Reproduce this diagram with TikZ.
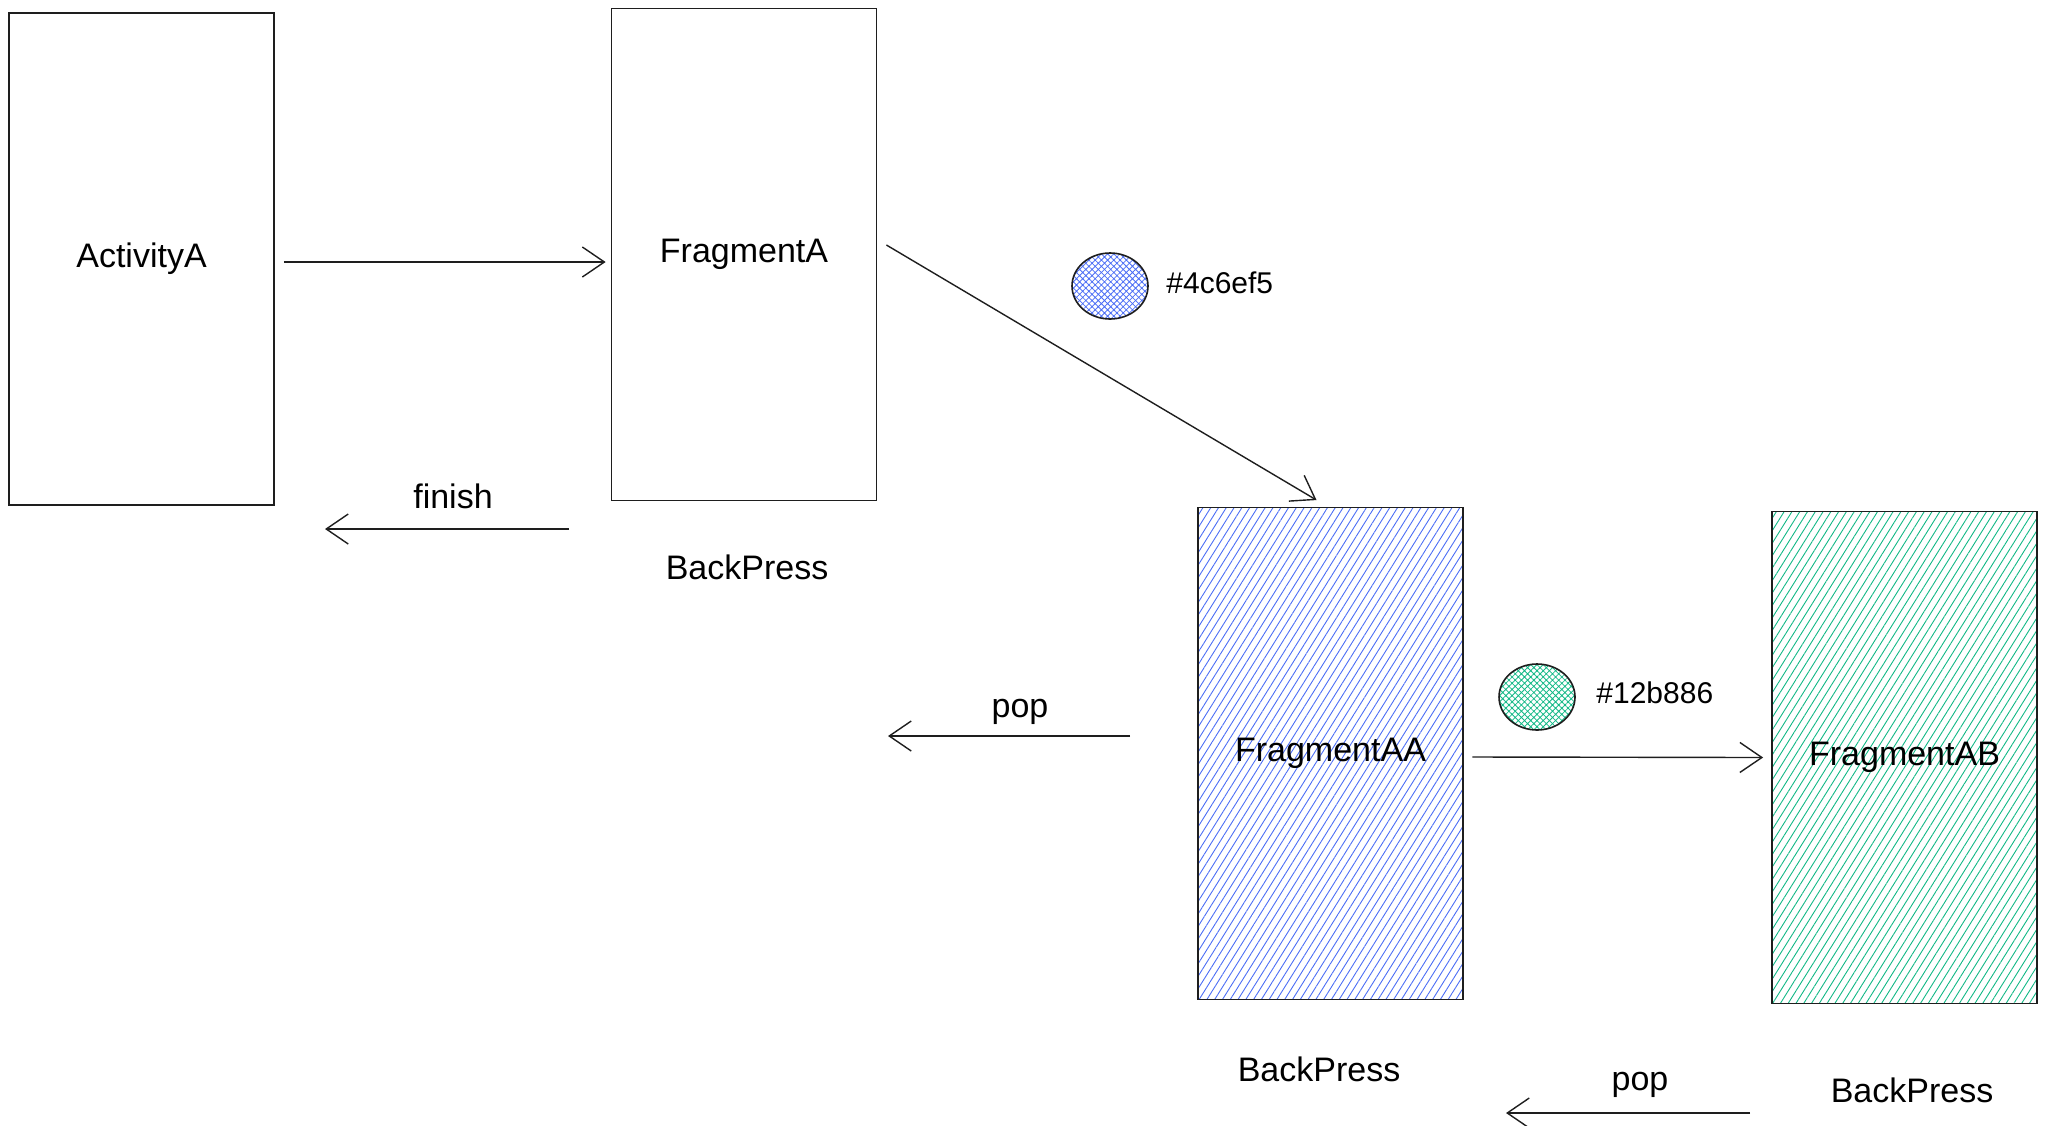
\documentclass[tikz,border=0pt]{standalone}
\usepackage{fontspec}
\setmainfont{Liberation Sans}
\usetikzlibrary{arrows.meta,patterns.meta,shapes.geometric}
\definecolor{ink}{HTML}{1E1E1E}
\definecolor{blueA}{HTML}{4C6EF5}
\definecolor{greenA}{HTML}{12B886}
\tikzset{
  screen/.style={draw=ink, line width=0.9pt, rectangle, inner sep=0pt,
    minimum width=132.5pt, minimum height=246pt, font=\fontsize{17}{20}\selectfont},
  hatched/.style={pattern={Lines[angle=58,distance=3.3pt,line width=0.45pt]}, pattern color=#1},
  dot/.style={draw=ink, line width=0.8pt, ellipse, inner sep=0pt,
    minimum width=38pt, minimum height=33pt,
    pattern={Hatch[angle=45,distance=2.2pt,line width=0.4pt]}, pattern color=#1},
  lbl/.style={font=\fontsize{17}{20}\selectfont, inner sep=1pt},
  hexlbl/.style={font=\fontsize{15}{18}\selectfont, inner sep=0pt, anchor=west},
  arr/.style={draw=ink, line width=0.7pt, -{Straight Barb[length=11pt,width=15pt]}}
}
\begin{document}
\begin{tikzpicture}[x=0.5pt, y=-0.5pt]
  \useasboundingbox (0,0) rectangle (2048,1125);
  % screens
  \node[screen] (act) at (141.5,259) {ActivityA};
  \node[screen] (fa) at (744,254.5) {FragmentA};
  \node[screen, hatched=blueA] (faa) at (1330.5,753.5) {FragmentAA};
  \node[screen, hatched=greenA] (fab) at (1904.5,757.5) {FragmentAB};
  % colour swatches
  \node[dot=blueA] (cBlue) at (1110,286) {};
  \node[hexlbl] (hexBlue) at (1166,283) {\#4c6ef5};
  \node[dot=greenA] (cGreen) at (1537,697) {};
  \node[hexlbl] (hexGreen) at (1596,693) {\#12b886};
  % labels
  \node[lbl] (bpA) at (747,567) {BackPress};
  \node[lbl] (bpAA) at (1319,1069) {BackPress};
  \node[lbl] (bpAB) at (1912,1090) {BackPress};
  \node[lbl] (finL) at (453,496) {finish};
  \node[lbl] (popL) at (1020,712) {pop};
  \node[lbl] (popLb) at (1640,1085) {pop};
  % free ends of the back arrows
  \coordinate (finS) at (569,529);
  \coordinate (finE) at (325,529);
  \coordinate (popS) at (1130,736);
  \coordinate (popE) at (888,736);
  \coordinate (popSb) at (1750,1113);
  \coordinate (popEb) at (1506,1113);
  % forward arrows
  \draw[arr] ([xshift=4.5pt,yshift=-1.5pt]act.east) -- ([xshift=-2.5pt,yshift=-1.5pt]act.east -| fa.west);
  \draw[arr] ([xshift=4.5pt,yshift=4.75pt]fa.east) -- ([xshift=-7pt,yshift=3.5pt]faa.north);
  \draw[arr] ([xshift=4.5pt,yshift=-1.75pt]faa.east) -- ([xshift=-4pt]fab.west);
  % back arrows
  \draw[arr] (finS) -- (finE);
  \draw[arr] (popS) -- (popE);
  \draw[arr] (popSb) -- (popEb);
\end{tikzpicture}
\end{document}
